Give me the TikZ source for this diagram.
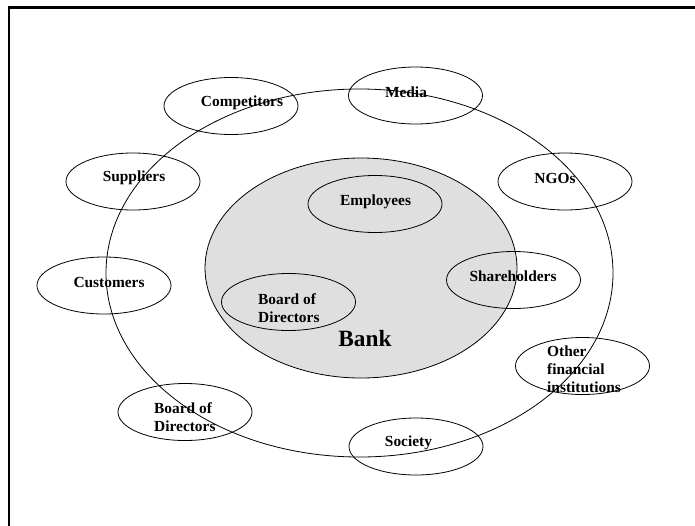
\documentclass[tikz,border=0pt]{standalone}
\usepackage{fontspec}
\setmainfont{Liberation Serif}
\usetikzlibrary{shapes.geometric}
\begin{document}
\begin{tikzpicture}[x=1pt,y=-1pt,
  oval/.style={draw, ellipse, line width=0.8pt, inner sep=0pt,
               minimum width=134pt, minimum height=57pt},
  lbl/.style={font=\fontsize{15.4}{18}\selectfont\bfseries,
              inner sep=0pt, align=left},
  banktext/.style={font=\fontsize{23.3}{28}\selectfont\bfseries, inner sep=0pt}
]
\useasboundingbox (0,0) rectangle (695,525);

% page frame (only the top and left edges are inside the page)
\draw[line width=2.3pt] (8.7,540) -- (8.7,7.5) -- (710,7.5);

% the bank and its surrounding environment
\node[draw, ellipse, fill=gray!25, line width=0.8pt, inner sep=0pt,
      minimum width=312pt, minimum height=220pt] (bank) at (361,268) {};
\node[draw, ellipse, line width=0.8pt, inner sep=0pt,
      minimum width=507pt, minimum height=368pt] (env) at (359.5,273) {};

% internal stakeholders
\node[oval] (empOv) at (375,204) {};
\node[oval] (shOv) at (513.5,280) {};
\node[oval] (bodInOv) at (288.5,302) {};

% external stakeholders
\node[oval] (compOv) at (231,106) {};
\node[oval] (mediaOv) at (415.5,95.5) {};
\node[oval] (ngoOv) at (565,181.5) {};
\node[oval] (supOv) at (133,181.5) {};
\node[oval] (custOv) at (104,285.5) {};
\node[oval] (ofiOv) at (582.5,366) {};
\node[oval] (socOv) at (416,446.5) {};
\node[oval] (bodOutOv) at (185,412) {};

% labels
\node[lbl] (empL) at (375.5,202) {Employees};
\node[lbl] (shL) at (513,276) {Shareholders};
\node[lbl, anchor=west] (bodInL) at (258,308) {Board of\\Directors};
\node[banktext] (bankL) at (365,339) {Bank};
\node[lbl] (compL) at (242,103) {Competitors};
\node[lbl] (mediaL) at (406,92) {Media};
\node[lbl] (ngoL) at (555,178) {NGOs};
\node[lbl] (supL) at (134,178) {Suppliers};
\node[lbl] (custL) at (109,282) {Customers};
\node[lbl, anchor=west] (ofiL) at (547,369) {Other\\financial\\institutions};
\node[lbl] (socL) at (408.5,443) {Society};
\node[lbl, anchor=west] (bodOutL) at (154,417) {Board of\\Directors};
\end{tikzpicture}
\end{document}
